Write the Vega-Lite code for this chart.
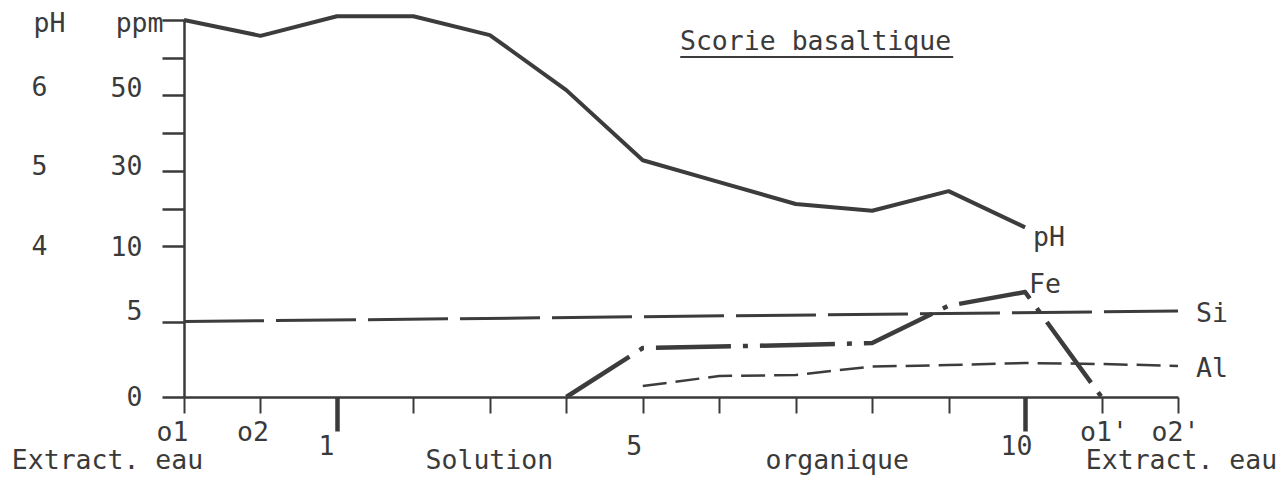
{
  "$schema": "https://vega.github.io/schema/vega-lite/v6.json",
  "width": 994,
  "height": 377,
  "autosize": {"type": "none"},
  "padding": {"left": 184, "top": 20, "right": 101, "bottom": 85},
  "background": "white",
  "config": {
    "font": "DejaVu Sans Mono",
    "view": {"stroke": null},
    "text": {"font": "DejaVu Sans Mono", "fontSize": 26.5, "color": "#3a3a3a"},
    "axis": {
      "labelFont": "DejaVu Sans Mono",
      "labelFontSize": 26.5,
      "labelColor": "#3a3a3a",
      "domainColor": "#3a3a3a",
      "tickColor": "#3a3a3a",
      "grid": false,
      "labelLimit": 400
    }
  },
  "datasets": {
    "ppm": [
      {"i": 0, "etape": "o1", "serie": "Si", "ppm": 5.0},
      {"i": 13, "etape": "o2'", "serie": "Si", "ppm": 5.7},
      {"i": 5, "etape": "4", "serie": "Fe", "ppm": 0},
      {"i": 6, "etape": "5", "serie": "Fe", "ppm": 3.25},
      {"i": 7, "etape": "6", "serie": "Fe", "ppm": 3.35},
      {"i": 8, "etape": "7", "serie": "Fe", "ppm": 3.45},
      {"i": 9, "etape": "8", "serie": "Fe", "ppm": 3.58},
      {"i": 10, "etape": "9", "serie": "Fe", "ppm": 6.05},
      {"i": 11, "etape": "10", "serie": "Fe", "ppm": 6.96},
      {"i": 12, "etape": "o1'", "serie": "Fe", "ppm": 0},
      {"i": 6, "etape": "5", "serie": "Al", "ppm": 0.73},
      {"i": 7, "etape": "6", "serie": "Al", "ppm": 1.39},
      {"i": 8, "etape": "7", "serie": "Al", "ppm": 1.46},
      {"i": 9, "etape": "8", "serie": "Al", "ppm": 2.02},
      {"i": 10, "etape": "9", "serie": "Al", "ppm": 2.12},
      {"i": 11, "etape": "10", "serie": "Al", "ppm": 2.25},
      {"i": 12, "etape": "o1'", "serie": "Al", "ppm": 2.19},
      {"i": 13, "etape": "o2'", "serie": "Al", "ppm": 2.06}
    ],
    "ph": [
      {"i": 0, "etape": "o1", "pH": 7.0},
      {"i": 1, "etape": "o2", "pH": 6.79},
      {"i": 2, "etape": "1", "pH": 7.05},
      {"i": 3, "etape": "2", "pH": 7.05},
      {"i": 4, "etape": "3", "pH": 6.8},
      {"i": 5, "etape": "4", "pH": 6.07},
      {"i": 6, "etape": "5", "pH": 5.14},
      {"i": 7, "etape": "6", "pH": 4.85},
      {"i": 8, "etape": "7", "pH": 4.56},
      {"i": 9, "etape": "8", "pH": 4.47},
      {"i": 10, "etape": "9", "pH": 4.73},
      {"i": 11, "etape": "10", "pH": 4.25}
    ],
    "titre": [
      {"titre": "Scorie basaltique"}
    ]
  },
  "layer": [
    {
      "data": {"name": "ppm"},
      "mark": {"type": "line", "color": "#3c3c3c", "strokeCap": "butt", "strokeJoin": "round"},
      "encoding": {
        "x": {
          "field": "i", "type": "quantitative",
          "scale": {"domain": [0, 13], "nice": false, "zero": false},
          "axis": {
            "title": null,
            "orient": "bottom",
            "values": [0, 1, 2, 3, 4, 5, 6, 7, 8, 9, 10, 11, 12, 13],
            "labelExpr": "datum.value == 0 ? 'o1' : datum.value == 1 ? 'o2' : datum.value == 12 ? \"o1'\" : datum.value == 13 ? \"o2'\" : ''",
            "domainWidth": 2.5,
            "tickWidth": 2,
            "tickSize": 16,
            "labelBaseline": "alphabetic",
            "labelAlign": "center",
            "labelFlush": false,
            "labelPadding": 27,
            "labelOffset": {"condition": [
              {"test": "datum.value == 0", "value": -12},
              {"test": "datum.value == 1", "value": -8},
              {"test": "datum.value == 12", "value": 2},
              {"test": "datum.value == 13", "value": -3}
            ], "value": 0}
          }
        },
        "y": {
          "field": "ppm", "type": "quantitative",
          "scale": {"domain": [0, 10, 70], "range": [377, 226.2, 0], "nice": false, "zero": false},
          "axis": {
            "title": null,
            "orient": "left",
            "values": [0, 5, 10, 20, 30, 40, 50, 60, 70],
            "labelExpr": "(datum.value == 20 || datum.value == 40 || datum.value == 60 || datum.value == 70) ? '' : datum.label",
            "domainWidth": 2.5,
            "tickWidth": 2.5,
            "tickSize": 22,
            "labelAlign": "right",
            "labelBaseline": "middle",
            "labelPadding": 20,
            "labelOffset": {"condition": [
              {"test": "datum.value == 50", "value": -7},
              {"test": "datum.value == 30", "value": -4},
              {"test": "datum.value == 10", "value": 1},
              {"test": "datum.value == 5", "value": -10}
            ], "value": 0}
          }
        },
        "strokeDash": {
          "field": "serie", "type": "nominal",
          "scale": {"type": "ordinal", "domain": ["Si", "Fe", "Al"], "range": [[80, 12], [75, 12, 5, 12], [24, 9]]},
          "legend": null
        },
        "strokeWidth": {
          "field": "serie", "type": "nominal",
          "scale": {"type": "ordinal", "domain": ["Si", "Fe", "Al"], "range": [3, 4.5, 2.5]},
          "legend": null
        }
      }
    },
    {
      "data": {"name": "ph"},
      "mark": {"type": "line", "color": "#3c3c3c", "strokeWidth": 4, "strokeJoin": "round", "strokeCap": "butt"},
      "encoding": {
        "x": {
          "field": "i", "type": "quantitative",
          "scale": {"domain": [0, 13], "nice": false, "zero": false},
          "axis": {
            "title": null,
            "orient": "bottom",
            "values": [2, 6, 11],
            "labelExpr": "datum.value == 2 ? '1' : datum.value == 6 ? '5' : '10'",
            "domain": false,
            "ticks": false,
            "labelPadding": 36,
            "labelOffset": {"condition": {"test": "datum.value == 2", "value": -11}, "value": -9}
          }
        },
        "y": {
          "field": "pH", "type": "quantitative",
          "scale": {"domain": [2, 7], "nice": false, "zero": false},
          "axis": {
            "title": null,
            "orient": "left",
            "offset": 135,
            "values": [4, 5, 6],
            "domain": false,
            "ticks": false,
            "labelPadding": 2,
            "labelOffset": {"condition": [
              {"test": "datum.value == 6", "value": -8},
              {"test": "datum.value == 5", "value": -4}
            ], "value": 0}
          }
        }
      }
    },
    {
      "data": {"name": "ph"},
      "transform": [{"filter": "datum.i == 11"}],
      "mark": {"type": "text", "align": "left", "baseline": "middle", "dx": 8, "dy": 11, "text": "pH"},
      "encoding": {
        "x": {"field": "i", "type": "quantitative", "scale": {"domain": [0, 13], "nice": false, "zero": false}, "axis": null},
        "y": {"field": "pH", "type": "quantitative", "scale": {"domain": [2, 7], "nice": false, "zero": false}, "axis": null}
      }
    },
    {
      "data": {"name": "titre"},
      "mark": {"type": "text", "align": "center", "baseline": "alphabetic"},
      "encoding": {
        "x": {
          "datum": 8.26, "type": "quantitative",
          "scale": {"domain": [0, 13], "nice": false, "zero": false},
          "axis": {
            "title": null,
            "orient": "bottom",
            "values": [0, 4, 8, 13],
            "labelExpr": "datum.value == 0 ? 'Extract. eau' : datum.value == 4 ? 'Solution' : datum.value == 8 ? 'organique' : 'Extract. eau'",
            "domain": false,
            "ticks": false,
            "labelFlush": false,
            "labelLimit": 400,
            "labelPadding": 50,
            "labelOffset": {"condition": [
              {"test": "datum.value == 0", "value": -77},
              {"test": "datum.value == 4", "value": -1},
              {"test": "datum.value == 8", "value": 41},
              {"test": "datum.value == 13", "value": 3}
            ], "value": 0}
          }
        },
        "y": {
          "datum": 62.1, "type": "quantitative",
          "scale": {"domain": [0, 10, 70], "range": [377, 226.2, 0], "nice": false, "zero": false},
          "axis": {
            "title": null,
            "orient": "left",
            "offset": 19,
            "values": [70],
            "labelExpr": "'ppm'",
            "domain": false,
            "ticks": false,
            "labelPadding": 2,
            "labelOffset": 3
          }
        },
        "text": {"field": "titre"}
      }
    },
    {
      "data": {"name": "titre"},
      "mark": {"type": "rule", "color": "#3c3c3c", "strokeWidth": 2},
      "encoding": {
        "x": {"datum": 6.49, "type": "quantitative", "scale": {"domain": [0, 13], "nice": false, "zero": false}, "axis": null},
        "x2": {"datum": 10.06},
        "y": {"datum": 60.2, "type": "quantitative", "scale": {"domain": [0, 10, 70], "range": [377, 226.2, 0], "nice": false, "zero": false}, "axis": null}
      }
    },
    {
      "data": {"name": "ppm"},
      "transform": [{"filter": "datum.serie == 'Fe' && datum.i == 11"}],
      "mark": {"type": "text", "align": "left", "baseline": "middle", "dx": 4, "dy": -7},
      "encoding": {
        "x": {
          "field": "i", "type": "quantitative",
          "scale": {"domain": [0, 13], "nice": false, "zero": false},
          "axis": {
            "title": null,
            "orient": "bottom",
            "values": [2, 11],
            "labels": false,
            "domain": false,
            "tickSize": 34,
            "tickWidth": 4.5
          }
        },
        "y": {
          "field": "ppm", "type": "quantitative",
          "scale": {"domain": [0, 10, 70], "range": [377, 226.2, 0], "nice": false, "zero": false},
          "axis": {
            "title": null,
            "orient": "left",
            "offset": 117,
            "values": [70],
            "labelExpr": "'pH'",
            "domain": false,
            "ticks": false,
            "labelPadding": 2,
            "labelOffset": 3
          }
        },
        "text": {"field": "serie"}
      }
    },
    {
      "data": {"name": "ppm"},
      "transform": [{"filter": "(datum.serie == 'Si' || datum.serie == 'Al') && datum.i == 13"}],
      "mark": {"type": "text", "align": "left", "baseline": "middle", "dx": 18, "dy": 3},
      "encoding": {
        "x": {"field": "i", "type": "quantitative", "scale": {"domain": [0, 13], "nice": false, "zero": false}, "axis": null},
        "y": {"field": "ppm", "type": "quantitative", "scale": {"domain": [0, 10, 70], "range": [377, 226.2, 0], "nice": false, "zero": false}, "axis": null},
        "text": {"field": "serie"}
      }
    }
  ],
  "resolve": {"scale": {"y": "independent"}, "axis": {"x": "independent", "y": "independent"}}
}
